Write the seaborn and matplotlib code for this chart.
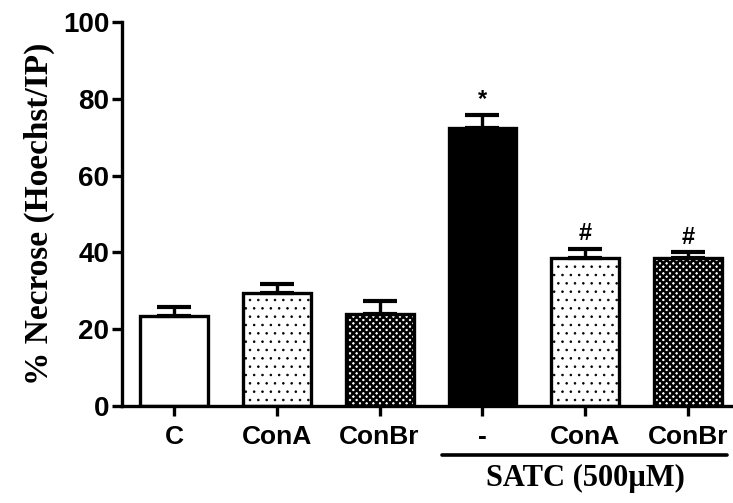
import numpy as np
import pandas as pd
import matplotlib
matplotlib.use("Agg")
import matplotlib.pyplot as plt
import matplotlib.transforms as mtransforms
import seaborn as sns

# dades llegides de la figura
grups = ["C", "ConA", "ConBr", "-", "ConA ", "ConBr "]
etiquetes = ["C", "ConA", "ConBr", "-", "ConA", "ConBr"]
mitjanes = [23.3, 29.5, 24.0, 72.5, 38.5, 38.5]
errors = [2.5, 2.3, 3.3, 3.3, 2.5, 1.5]
colors = ["white", "white", "white", "black", "white", "white"]
tramats = ["", "..", "xxxxx", "", "..", "xxxxx"]
gruix_tramat = [1.0, 0.6, 1.8, 1.0, 0.6, 1.8]
marques = ["", "", "", "*", "#", "#"]

sns.set_style("ticks")
plt.rcParams["hatch.linewidth"] = 1.8
plt.rcParams["hatch.color"] = "black"
plt.rcParams["text.color"] = "black"
plt.rcParams["xtick.color"] = "black"
plt.rcParams["ytick.color"] = "black"
plt.rcParams["axes.labelcolor"] = "black"
plt.rcParams["axes.edgecolor"] = "black"

df = pd.DataFrame({"grup": grups, "valor": mitjanes})

fig = plt.figure(figsize=(7.33, 5.03), dpi=100)
ax = fig.add_axes([0.1664, 0.193, 0.834, 0.763])

sns.barplot(data=df, x="grup", y="valor", order=grups, ax=ax,
            palette=colors, hue="grup", legend=False,
            edgecolor="black", linewidth=2.4, width=0.66, errorbar=None, saturation=1)

for p, h, g in zip(ax.patches, tramats, gruix_tramat):
    p.set_hatch(h)
    if hasattr(p, "set_hatch_linewidth"):
        p.set_hatch_linewidth(g)

xs = np.arange(len(grups))
ax.errorbar(xs, mitjanes, yerr=[np.zeros(len(errors)), errors], fmt="none",
            ecolor="black", elinewidth=2.4, capsize=12, capthick=3, zorder=1)

for x, m, e, t in zip(xs, mitjanes, errors, marques):
    if t:
        ax.text(x, m + e + 1.0, t, ha="center", va="bottom",
                fontsize=17, fontweight="bold", family="Liberation Sans")

ax.set_xlim(-0.506, 5.44)
ax.set_ylim(0, 100)
ax.set_yticks([0, 20, 40, 60, 80, 100])
ax.set_xticks(xs)
ax.set_xticklabels(etiquetes)
for lab in ax.get_yticklabels():
    lab.set_family("Liberation Sans")
    lab.set_fontweight("bold")
    lab.set_fontsize(20)
for lab in ax.get_xticklabels():
    lab.set_family("Liberation Sans")
    lab.set_fontweight("bold")
    lab.set_fontsize(19)

ax.set_xlabel("")
ax.set_ylabel("% Necrose (Hoechst/IP)", family="Liberation Serif",
              fontweight="bold", fontsize=24, labelpad=6)

sns.despine(ax=ax)
for s in ["left", "bottom"]:
    ax.spines[s].set_linewidth(2.4)
ax.tick_params(axis="both", direction="out", length=7, width=2.4, pad=2)
ax.tick_params(axis="x", pad=7)

# línia i text del grup SATC
trans = mtransforms.blended_transform_factory(ax.transData, ax.transAxes)
ax.plot([2.61, 5.38], [-0.128, -0.128], color="black", lw=2.6,
        transform=trans, clip_on=False)
ax.text(4.0, -0.19, "SATC (500µM)", transform=trans, ha="center", va="center",
        family="Liberation Serif", fontweight="bold", fontsize=22)

fig.savefig("out.png", dpi=100)
